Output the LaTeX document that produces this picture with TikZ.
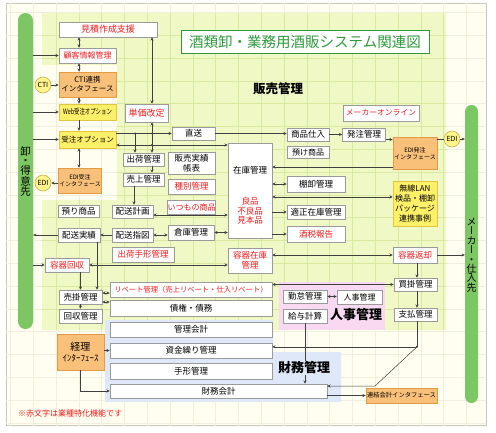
\documentclass[tikz,border=0pt]{standalone}
\usepackage{fontspec}
\setmainfont{Noto Sans CJK JP}
\newfontfamily\jpv[RawFeature=+vert]{Noto Sans CJK JP}
\usetikzlibrary{calc,arrows.meta}
\definecolor{cream}{HTML}{FFFEF0}
\definecolor{framec}{HTML}{C8C8BE}
\definecolor{gridc}{HTML}{F0EEDC}
\definecolor{greenreg}{HTML}{F0F8C6}
\definecolor{gridg}{HTML}{D9E9A2}
\definecolor{pinkreg}{HTML}{F8D9F1}
\definecolor{bluereg}{HTML}{DFE8F8}
\definecolor{barg}{HTML}{7DC664}
\definecolor{orangeF}{HTML}{F9C07A}
\definecolor{orangeD}{HTML}{E39A45}
\definecolor{yellowF}{HTML}{FFF06A}
\definecolor{yellowD}{HTML}{E2C642}
\definecolor{redT}{HTML}{F21C1C}
\definecolor{titleG}{HTML}{2E9A3C}
\definecolor{boxD}{HTML}{9A9A9A}
\definecolor{lineC}{HTML}{404040}
\definecolor{circF}{HTML}{FFF38C}
\definecolor{circD}{HTML}{C9B34A}
\tikzset{
 bx/.style={draw=boxD, line width=0.6pt, fill=white, inner sep=0pt, align=center, font=\fontsize{8.5}{10}\selectfont},
 wb/.style={bx},
 rb/.style={bx, text=redT},
 ob/.style={bx, fill=orangeF, draw=orangeD},
 yb/.style={bx, fill=yellowF, draw=yellowD},
 cb/.style={circle, draw=circD, fill=circF, line width=0.6pt, inner sep=0pt, minimum size=16pt, font=\fontsize{7}{8}\selectfont},
 ln/.style={draw=lineC, line width=0.5pt},
 arr/.style={ln, -{Stealth[length=3.2pt,width=3pt]}},
 bi/.style={ln, {Stealth[length=3.2pt,width=3pt]}-{Stealth[length=3.2pt,width=3pt]}},
 dot/.style={circle, fill=lineC, inner sep=0pt, minimum size=2.2pt},
 sz/.style 2 args={minimum width=#1pt, minimum height=#2pt},
 reglabel/.style={font=\bfseries\fontsize{12.5}{14}\selectfont, inner sep=1pt},
}
\begin{document}
\begin{tikzpicture}[x=1pt,y=-1pt]
\useasboundingbox (0,0) rectangle (496,432);
\fill[white] (0,0) rectangle (496,432);
\draw[fill=cream, draw=framec, line width=0.8pt] (6,3) rectangle (486,425);
% faint grid on cream
\begin{scope}
\clip (6,3) rectangle (486,425);
\foreach \i in {0,...,21} \draw[gridc, line width=0.4pt] ({10.4+22.8*\i},0) -- ({10.4+22.8*\i},432);
\foreach \j in {0,...,18} \draw[gridc, line width=0.4pt] (0,{12.4+22.8*\j}) -- (496,{12.4+22.8*\j});
\end{scope}
% sales region
\fill[greenreg] (42,13) -- (446,13) -- (446,330) -- (42,330) -- (42,200) -- (117,200) -- (117,65) -- (42,65) -- cycle;
\begin{scope}
\clip (42,13) -- (446,13) -- (446,330) -- (42,330) -- (42,200) -- (117,200) -- (117,65) -- (42,65) -- cycle;
\foreach \i in {0,...,21} \draw[gridg, line width=0.5pt] ({10.4+22.8*\i},0) -- ({10.4+22.8*\i},432);
\foreach \j in {0,...,18} \draw[gridg, line width=0.5pt] (0,{12.4+22.8*\j}) -- (496,{12.4+22.8*\j});
\end{scope}
\fill[pinkreg] (279,282) rectangle (385,330);
\fill[bluereg] (105,320) -- (273,320) -- (273,352) -- (341,352) -- (341,402) -- (105,402) -- cycle;
% side bars
\node[fill=barg, rounded corners=7.5pt, sz={15}{316}, inner sep=0pt] (lbar) at (25.5,171) {};
\node[fill=barg, rounded corners=6.5pt, sz={13}{298}, inner sep=0pt] (rbar) at (471.5,254) {};
\node[font=\fontsize{10.5}{9.5}\selectfont, align=center, inner sep=0pt] (ltext) at (25.5,171.5) {卸\\・\\得\\意\\先};
\node[font=\jpv\fontsize{10}{9.4}\selectfont, align=center, inner sep=0pt] (rtext) at (471.5,255) {メ\\ー\\カ\\ー\\・\\仕\\入\\先};
% title
\node[draw=titleG, line width=1pt, fill=white, sz={248}{23}, text=titleG, font=\fontsize{14.5}{16}\selectfont, inner sep=0pt] (title) at (305,41.5) {酒類卸・業務用酒販システム関連図};
\node[reglabel] (lhanbai) at (278,89) {販売管理};
% left column
\node[rb, sz={98}{15}, font=\fontsize{9}{10}\selectfont] (mitsu) at (108,29.5) {見積作成支援};
\node[rb, sz={57}{15}, font=\fontsize{8}{9}\selectfont] (kokyaku) at (87.5,55.5) {顧客情報管理};
\node[ob, sz={57}{25}, font=\fontsize{7.5}{9}\selectfont] (cti) at (87.5,84.5) {CTI連携\\インタフェース};
\node[yb, sz={57}{16}, font=\fontsize{7.5}{8}\selectfont] (web) at (87.5,112) {\scalebox{0.72}[1]{Web受注オプション}};
\node[yb, sz={57}{17}, font=\fontsize{7.5}{8}\selectfont] (juchu) at (87.5,139.5) {受注オプション};
\node[ob, sz={43}{25}, font=\fontsize{6}{7.5}\selectfont] (edij) at (80,180.5) {EDI受注\\インタフェース};
\node[cb] (ctic) at (43,85) {CTI};
\node[cb] (edic) at (43,183) {EDI};
\node[rb, sz={43}{18}, font=\fontsize{9}{10}\selectfont] (tanka) at (146.5,113) {単価改定};
% center
\node[wb, sz={43}{13}] (chokuso) at (193.5,133.5) {直送};
\node[wb, sz={41}{13}] (shukka) at (143.5,159.5) {出荷管理};
\node[wb, sz={41}{13}] (uriage) at (143.5,179.5) {売上管理};
\node[wb, sz={47}{22}] (hanbai) at (191.5,163) {販売実績\\帳表};
\node[rb, sz={47}{15}] (shubetsu) at (191.5,186.5) {種別管理};
\node[rb, sz={47}{14}, font=\fontsize{8}{9}\selectfont] (itsumo) at (191.5,207) {いつもの商品};
\node[wb, sz={46}{15}] (souko) at (191,232.5) {倉庫管理};
\node[wb, sz={44}{95}] (zaiko) at (250,190.5) {};
\node[font=\fontsize{8.5}{10}\selectfont, inner sep=0pt] (zaikot) at (250,170) {在庫管理};
\node[text=redT, align=center, font=\fontsize{8.5}{9.5}\selectfont, inner sep=0pt] (ryohin) at (250,211) {良品\\不良品\\見本品};
\node[rb, sz={44}{25}] (youkizaiko) at (250,260.5) {容器在庫\\管理};
\node[wb, sz={42}{13}] (shohin) at (308,134.5) {商品仕入};
\node[wb, sz={42}{12}, font=\fontsize{8}{9}\selectfont] (azuke) at (308,152) {預け商品};
\node[wb, sz={43}{13}] (hatchu) at (364,134.5) {発注管理};
\node[rb, sz={76}{16}, font=\fontsize{7.8}{9}\selectfont] (maker) at (381,113) {メーカーオンライン};
\node[ob, sz={44}{32}, font=\fontsize{6}{7.5}\selectfont] (edih) at (415,153.5) {EDI発注\\インタフェース};
\node[cb] (edic2) at (452,139) {EDI};
\node[wb, sz={58}{16}] (tana) at (316,184) {棚卸管理};
\node[wb, sz={58}{14}] (tekisei) at (316,212) {適正在庫管理};
\node[rb, sz={58}{16}] (shuzei) at (316,234) {酒税報告};
\node[yb, sz={44}{45}, font=\fontsize{8}{10}\selectfont] (musen) at (415,203.5) {無線LAN\\検品・棚卸\\パッケージ\\連携事例};
\node[rb, sz={44}{16}] (youkihen) at (415,255) {容器返却};
\node[wb, sz={43}{13}] (kaikake) at (415.5,284.5) {買掛管理};
\node[wb, sz={43}{13}] (shiharai) at (415.5,314.5) {支払管理};
% lower left
\node[wb, sz={41}{12}] (azukari) at (78.5,211) {預り商品};
\node[wb, sz={41}{13}] (haisoukei) at (132.5,211.5) {配送計画};
\node[wb, sz={42}{14}] (haisoujitsu) at (79,235) {配送実績};
\node[wb, sz={41}{14}] (haisousashi) at (132.5,235) {配送指図};
\node[rb, sz={62}{15}] (tegata1) at (143,254.5) {出荷手形管理};
\node[rb, sz={44}{14}] (youkikai) at (67,265) {容器回収};
\node[wb, sz={43}{14}] (urikake) at (80.5,297) {売掛管理};
\node[wb, sz={43}{14}] (kaishu) at (80.5,316) {回収管理};
\node[rb, sz={162}{15}, font=\fontsize{7.3}{9}\selectfont] (rebate) at (191,290) {リベート管理（売上リベート・仕入リベート）};
\node[wb, sz={162}{16}] (saiken) at (191,308.5) {債権・債務};
\node[wb, sz={162}{15}] (kanri) at (191,329.5) {管理会計};
\node[wb, sz={162}{15}] (shikin) at (191,350.5) {資金繰り管理};
\node[wb, sz={162}{16}] (tegata2) at (191,371) {手形管理};
\node[wb, sz={217}{14}] (zaimu) at (218.5,391) {財務会計};
\node[ob, sz={47}{36}, font=\fontsize{9}{11}\selectfont] (keiri) at (80.5,352) {{\fontsize{10}{12}\selectfont 経理}\\ｲﾝﾀｰﾌｪｰｽ};
\node[wb, sz={44}{13}] (kintai) at (305,296.5) {勤怠管理};
\node[wb, sz={44}{14}] (kyuyo) at (305,316) {給与計算};
\node[wb, sz={45}{14}, font=\fontsize{8}{9}\selectfont] (jinji) at (359.5,297) {人事管理};
\node[ob, sz={71}{15}, font=\fontsize{6.3}{7}\selectfont] (renketsu) at (401.5,395.5) {連結会計インタフェース};
% connectors
\draw[bi] ($(kokyaku.north)+(-8.5,0)$) -- ($(mitsu.south)+(-29,0)$);
\draw[bi] ($(cti.north)+(-8.5,0)$) -- ($(kokyaku.south)+(-8.5,0)$);
\draw[bi] ($(web.north)+(-8.5,0)$) -- ($(cti.south)+(-8.5,0)$);
\draw[arr] ($(web.south)+(-8.5,0)$) -- ($(juchu.north)+(-8.5,0)$);
\draw[bi] ($(juchu.south)+(-8.5,0)$) -- ($(edij.north)+(-1,0)$);
\draw[bi] ($(tanka.north)+(5.5,0)$) -- ($(mitsu.south)+(44,0)$);
\draw[arr] (lbar.east |- kokyaku.west) -- (kokyaku.west);
\draw[arr] (lbar.east |- web.west) -- (web.west);
\draw[arr] (lbar.east |- juchu.west) -- (juchu.west);
\draw[arr] (ctic) -- (cti.west |- ctic);
\draw[arr] (edij.west |- edic) -- (edic);
\coordinate (j133) at (juchu.east |- chokuso.west);
\draw[arr] (j133) -- (chokuso.west);
\coordinate (j145) at ($(juchu.east)+(0,5.5)$);
\draw[bi] (j145) -- (zaiko.west |- j145);
\coordinate (xa) at ($(shukka.north)+(-8.5,0)$);
\draw[arr] (xa |- j133) -- (xa);
\coordinate (xb) at ($(tanka.south)+(5.5,0)$);
\draw[bi] (xb) -- (xb |- shukka.north);
\node[dot] (d1) at (xa |- j133) {};
\node[dot] (d2) at (xb |- j133) {};
\node[dot] (d3) at (xb |- j145) {};
\draw[arr] ($(shukka.south)+(8.5,0)$) -- ($(uriage.north)+(8.5,0)$);
\draw[arr] ($(uriage.south)+(-9.5,0)$) -- ($(haisoukei.north)+(1.5,0)$);
\coordinate (h215) at ($(haisoukei.east)+(0,3.5)$);
\draw[bi] (h215) -- (zaiko.west |- h215);
\draw[bi] (souko.east) -- (zaiko.west |- souko.east);
\draw[bi] (haisousashi.east) -- (souko.west |- haisousashi.east);
\draw[arr] (haisousashi.west) -- (haisoujitsu.east);
\draw[arr] (haisoujitsu.west) -- (lbar.east |- haisoujitsu.west);
\draw[arr] (lbar.east |- youkikai.west) -- (youkikai.west);
\draw[bi] (youkikai.east) -- (youkizaiko.west |- youkikai.east);
\draw[arr] ($(haisoujitsu.south)+(18,0)$) -- ($(urikake.north)+(16.5,0)$);
\draw[arr] ($(youkikai.south)+(13.5,0)$) -- (urikake.north);
\coordinate (u1) at ($(urikake.east)+(0,-4)$);
\draw[bi] (u1) -- (rebate.west |- u1);
\coordinate (u2) at ($(urikake.east)+(0,5)$);
\draw[bi] (u2) -- (saiken.west |- u2);
\draw[arr] (urikake) -- (kaishu);
\draw[arr] (chokuso.east) -- (shohin.west |- chokuso.east);
\draw[arr] (shohin.east) -- (hatchu.west |- shohin.east);
\coordinate (hc) at ($(hatchu.east)+(0,5)$);
\draw[arr] (hc) -- (edih.west |- hc);
\draw[ln] (edih.east |- edic2) -- (edic2);
\draw[arr] (edic2) -- (rbar.west |- edic2);
\coordinate (e1) at ($(edih.west)+(0,13.5)$);
\draw[arr] (e1) -- (zaiko.east |- e1);
\draw[bi] (zaiko.east |- tana.west) -- (tana.west);
\coordinate (m1) at ($(musen.west)+(0,-6.5)$);
\draw[bi] (zaiko.east |- m1) -- (m1);
\draw[arr] (zaiko.east |- tekisei.west) -- (tekisei.west);
\draw[arr] (zaiko.east |- shuzei.west) -- (shuzei.west);
\draw[bi] (youkizaiko.east |- youkihen.west) -- (youkihen.west);
\draw[arr] (youkihen.east) -- (rbar.west |- youkihen.east);
\draw[arr] ($(youkihen.south)+(2,0)$) -- ($(kaikake.north)+(1.5,0)$);
\draw[arr] ($(kaikake.south)+(1.5,0)$) -- ($(shiharai.north)+(1.5,0)$);
\draw[bi] (kaikake.west) -- (rebate.east |- kaikake.west);
\draw[bi] (kintai.east) -- (jinji.west |- kintai.east);
\draw[arr] (kyuyo.south) -- (kyuyo.south |- zaimu.north);
\coordinate (sj) at ($(shiharai.south)+(1.5,25.5)$);
\draw[ln] ($(shiharai.south)+(1.5,0)$) -- (sj);
\draw[arr] (sj) -- (shikin.east |- sj);
\coordinate (sk) at (375,386);
\draw[arr] (sj) -- (sk) -- (zaimu.east |- sk);
\node[dot] (d4) at (sj) {};
\draw[arr] (zaimu.east |- renketsu.west) -- (renketsu.west);
\draw[arr] (keiri.east |- shikin.west) -- (shikin.west);
\draw[arr] (keiri.south) |- (zaimu.west);
% region labels
\node[reglabel, font=\bfseries\fontsize{13}{14}\selectfont] (ljinji) at (356,315) {人事管理};
\node[reglabel, font=\bfseries\fontsize{13}{14}\selectfont, fill=bluereg] (lzaimu) at (304,368) {財務管理};
\node[anchor=west, text=redT, font=\fontsize{8}{9}\selectfont, inner sep=0pt] (note) at (18,413) {※赤文字は業種特化機能です};
\end{tikzpicture}
\end{document}
